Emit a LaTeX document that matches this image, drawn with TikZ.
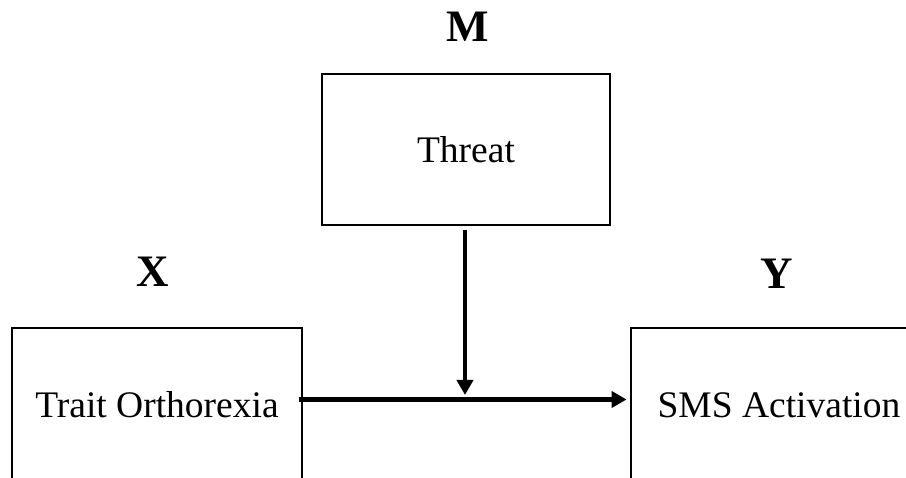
\documentclass[tikz,border=0pt]{standalone}
\usepackage{fontspec}
\setmainfont{Liberation Serif}
\usetikzlibrary{arrows.meta}
\begin{document}
\begin{tikzpicture}[x=1pt,y=-1pt,
  varbox/.style={draw=black,line width=2.8pt,rectangle,inner sep=0pt,
    font=\fontsize{37.5}{40}\selectfont},
  rolelabel/.style={anchor=base,inner sep=0pt,font=\fontsize{45}{48}\selectfont\bfseries},
  pathline/.style={line width=4.8pt,-{Triangle[length=15pt,width=16pt]}}]
  \clip (0,0) rectangle (906,478);
  \fill[white] (0,0) rectangle (906,478);

  % moderator, predictor and outcome boxes
  \node[varbox,minimum width=288pt,minimum height=151pt] (M) at (466,149.5) {Threat};
  \node[varbox,minimum width=290pt,minimum height=154pt] (X) at (157,405) {Trait Orthorexia};
  \node[varbox,minimum width=296pt,minimum height=154pt] (Y) at (779,405) {SMS Activation};

  % role letters above the boxes
  \node[rolelabel] (Mlab) at (468,42) {M};
  \node[rolelabel] (Xlab) at (153,287) {X};
  \node[rolelabel] (Ylab) at (777,289) {Y};

  % direct path X -> Y and the moderating path onto it
  \draw[pathline] ([xshift=-4pt,yshift=5.5pt]X.east) -- ([xshift=-3pt,yshift=5.5pt]Y.west);
  \coordinate (join) at (465,395);
  \draw[pathline] ([xshift=-1pt,yshift=-4pt]M.south) -- (join);
\end{tikzpicture}
\end{document}
